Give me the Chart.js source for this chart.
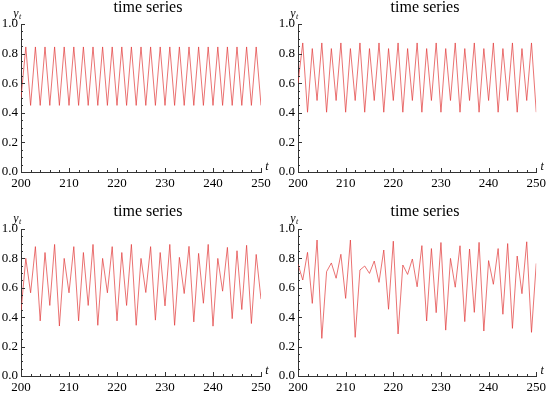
<!DOCTYPE html>
<html>
<head>
<meta charset="utf-8">
<script src="https://cdn.jsdelivr.net/npm/chart.js@4.4.1/dist/chart.umd.min.js"></script>
<style>
  body { margin: 0; background: #fff; }
  #lienzo { position: relative; width: 550px; height: 395px; }
  canvas { position: absolute; }
</style>
</head>
<body>
<div id="lienzo">
  <canvas id="c1" width="275" height="197" style="left:0;top:0"></canvas>
  <canvas id="c2" width="275" height="197" style="left:275px;top:0"></canvas>
  <canvas id="c3" width="275" height="198" style="left:0;top:197px"></canvas>
  <canvas id="c4" width="275" height="198" style="left:275px;top:197px"></canvas>
</div>
<script>
// Datos
const pasos = [200, 201, 202, 203, 204, 205, 206, 207, 208, 209, 210, 211, 212, 213, 214, 215, 216, 217, 218, 219,
  220, 221, 222, 223, 224, 225, 226, 227, 228, 229, 230, 231, 232, 233, 234, 235, 236, 237, 238, 239,
  240, 241, 242, 243, 244, 245, 246, 247, 248, 249, 250];

const serie1 = [0.50, 0.845, 0.45, 0.845, 0.45, 0.845, 0.45, 0.845, 0.45, 0.845, 0.45, 0.845, 0.45, 0.845, 0.45,
  0.845, 0.45, 0.845, 0.45, 0.845, 0.45, 0.845, 0.45, 0.845, 0.45, 0.845, 0.45, 0.845, 0.45, 0.845, 0.45,
  0.845, 0.45, 0.845, 0.45, 0.845, 0.45, 0.845, 0.45, 0.845, 0.45, 0.845, 0.45, 0.845, 0.45, 0.845, 0.45,
  0.845, 0.45, 0.845, 0.45];

const serie2 = [0.60, 0.872, 0.404, 0.834, 0.483, 0.872, 0.404, 0.834, 0.483, 0.872, 0.404, 0.834, 0.483,
  0.872, 0.404, 0.834, 0.483, 0.872, 0.404, 0.834, 0.483, 0.872, 0.404, 0.834, 0.483, 0.872, 0.404, 0.834,
  0.483, 0.872, 0.404, 0.834, 0.483, 0.872, 0.404, 0.834, 0.483, 0.872, 0.404, 0.834, 0.483, 0.872, 0.404,
  0.834, 0.483, 0.872, 0.404, 0.834, 0.483, 0.872, 0.404];

const serie3 = [0.44, 0.80, 0.566, 0.88, 0.375, 0.84, 0.48, 0.895, 0.34, 0.80, 0.566, 0.88, 0.375, 0.84, 0.48,
  0.895, 0.345, 0.80, 0.566, 0.88, 0.375, 0.84, 0.48, 0.895, 0.345, 0.80, 0.568, 0.88, 0.38, 0.84, 0.477,
  0.895, 0.345, 0.807, 0.561, 0.882, 0.368, 0.834, 0.495, 0.895, 0.339, 0.80, 0.577, 0.875, 0.39, 0.852,
  0.452, 0.889, 0.357, 0.827, 0.523];

const serie4 = [0.76, 0.653, 0.841, 0.494, 0.925, 0.256, 0.71, 0.769, 0.665, 0.828, 0.528, 0.925, 0.263, 0.721,
  0.748, 0.698, 0.782, 0.637, 0.857, 0.454, 0.917, 0.286, 0.755, 0.691, 0.796, 0.607, 0.887, 0.374, 0.867,
  0.431, 0.908, 0.312, 0.80, 0.604, 0.886, 0.37, 0.864, 0.433, 0.909, 0.306, 0.785, 0.624, 0.867, 0.42,
  0.901, 0.324, 0.816, 0.56, 0.913, 0.297, 0.766];

const ticksX = [200, 210, 220, 230, 240, 250];
const ticksY = [0, 0.2, 0.4, 0.6, 0.8, 1.0];
const titulo = 'time series';

const FUENTE = '"Liberation Serif", "DejaVu Serif", serif';
const COLOR_EJE = '#333';

// marcas hacia dentro, título y etiquetas de ejes
const adornos = {
  id: 'adornos',
  afterDraw(chart, args, opts) {
    const { ctx, chartArea: a, scales: { x, y } } = chart;
    ctx.save();
    ctx.strokeStyle = COLOR_EJE;
    ctx.lineWidth = 1;
    ctx.beginPath();
    for (let v = 200; v <= 250; v += 2) {
      const px = Math.round(x.getPixelForValue(v)) + 0.5;
      const largo = ticksX.includes(v) ? 4 : 2;
      ctx.moveTo(px, a.bottom);
      ctx.lineTo(px, a.bottom - largo);
    }
    for (let i = 0; i <= 20; i++) {
      const v = i * 0.05;
      const py = Math.round(y.getPixelForValue(v)) + 0.5;
      const largo = i % 4 === 0 ? 4 : 2;
      ctx.moveTo(a.left, py);
      ctx.lineTo(a.left + largo, py);
    }
    ctx.stroke();

    ctx.fillStyle = '#000';
    ctx.textAlign = 'center';
    ctx.textBaseline = 'middle';
    ctx.font = '16px ' + FUENTE;
    ctx.fillText(titulo, a.left + 127, a.top - opts.dyTitulo);

    ctx.font = 'italic 12px ' + FUENTE;
    ctx.fillText('y', a.left - 5, a.top - 10);
    ctx.font = 'italic 8px ' + FUENTE;
    ctx.fillText('t', a.left - 1, a.top - 7);
    ctx.font = 'italic 12px ' + FUENTE;
    ctx.fillText('t', a.right + 6, a.bottom - 5);
    ctx.restore();
  }
};

function crearPanel(id, valores, area, dyTitulo) {
  const canvas = document.getElementById(id);
  const ancho = canvas.width, alto = canvas.height;
  return new Chart(canvas, {
    type: 'line',
    data: {
      datasets: [{
        data: pasos.map((t, i) => ({ x: t, y: valores[i] })),
        borderColor: 'rgba(226,60,60,0.8)',
        borderWidth: 0.9,
        pointRadius: 0,
        tension: 0,
        fill: false
      }]
    },
    options: {
      responsive: false,
      animation: false,
      events: [],
      layout: { padding: { top: area.top, right: ancho - area.right, left: 0, bottom: 0 } },
      plugins: {
        legend: { display: false },
        title: { display: false },
        tooltip: { enabled: false },
        adornos: { dyTitulo: dyTitulo }
      },
      scales: {
        x: {
          type: 'linear', min: 200, max: 250,
          afterBuildTicks: s => { s.ticks = ticksX.map(v => ({ value: v })); },
          afterFit: s => { s.height = alto - area.bottom; },
          grid: { display: false, drawTicks: false },
          border: { display: true, color: COLOR_EJE, width: 1 },
          ticks: { color: '#000', padding: 4, maxRotation: 0, font: { family: FUENTE, size: 13 } }
        },
        y: {
          type: 'linear', min: 0, max: 1,
          afterBuildTicks: s => { s.ticks = ticksY.map(v => ({ value: v })); },
          afterFit: s => { s.width = area.left; },
          grid: { display: false, drawTicks: false },
          border: { display: true, color: COLOR_EJE, width: 1 },
          ticks: { color: '#000', padding: 3, font: { family: FUENTE, size: 13 },
                   callback: v => v.toFixed(1) }
        }
      }
    },
    plugins: [adornos]
  });
}

crearPanel('c1', serie1, { left: 21, right: 261, top: 24, bottom: 172 }, 16);
crearPanel('c2', serie2, { left: 23, right: 263, top: 24, bottom: 172 }, 16);
crearPanel('c3', serie3, { left: 21, right: 261, top: 32, bottom: 179 }, 17);
crearPanel('c4', serie4, { left: 23, right: 263, top: 32, bottom: 179 }, 17);
</script>
</body>
</html>
